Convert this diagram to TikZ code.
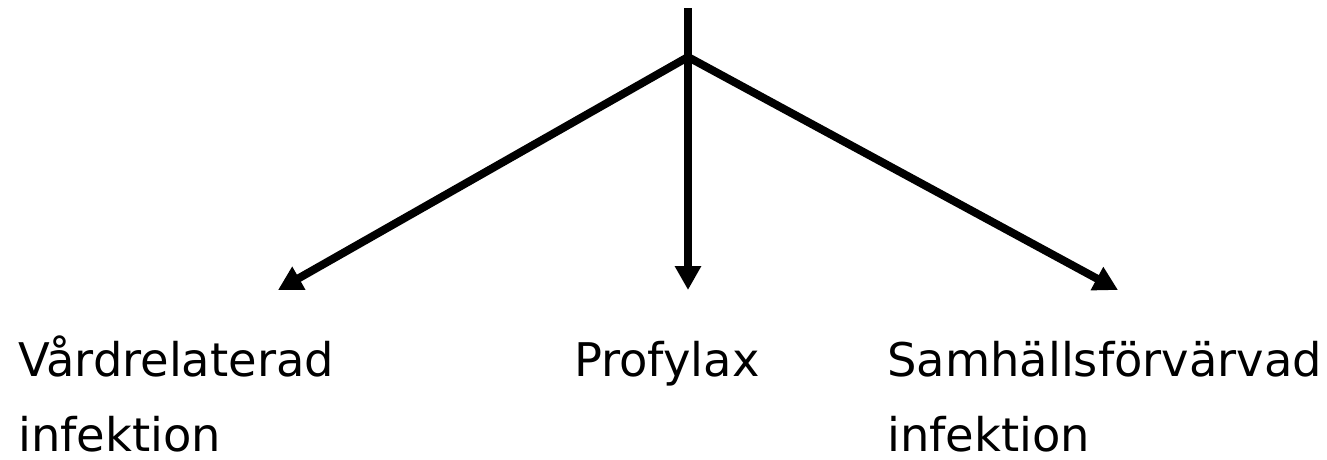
\documentclass[tikz,border=0pt]{standalone}
\usepackage{fontspec}
\setmainfont{DejaVu Sans}
\usetikzlibrary{arrows.meta}
\begin{document}
\begin{tikzpicture}[x=1pt,y=-1pt,
  conn/.style={line width=8pt,-{Triangle[length=24pt,width=25pt]}},
  lbl/.style={anchor=base west,inner sep=0pt,align=left,font=\fontsize{46.4}{75}\selectfont}]
\useasboundingbox (0,0) rectangle (1327,459);
\coordinate (top) at (688,8);
\coordinate (j) at (688,57);
\coordinate (tl) at (278,290);
\coordinate (tm) at (688,290);
\coordinate (tr) at (1118,290);
\node[lbl] (v) at (18,451) {Vårdrelaterad\\infektion};
\node[lbl] (p) at (574,376) {Profylax};
\node[lbl] (s) at (887,451) {Samhällsförvärvad\\infektion};
\draw[conn] (top) -- (tm);
\draw[conn] (j) -- (tl);
\draw[conn] (j) -- (tr);
\end{tikzpicture}
\end{document}
